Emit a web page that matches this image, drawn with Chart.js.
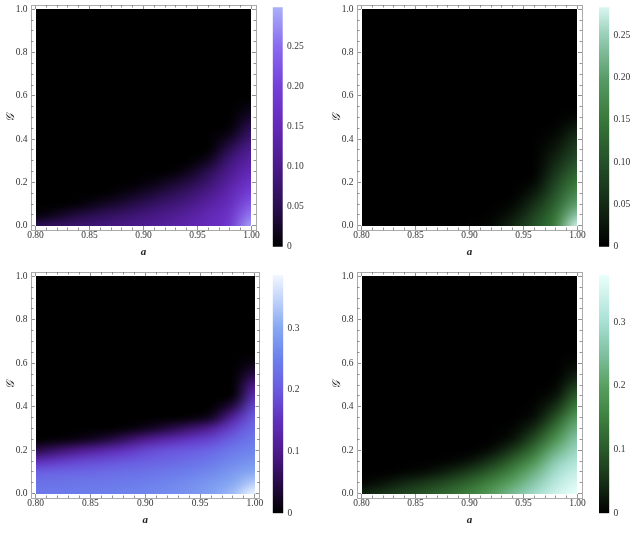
<!DOCTYPE html>
<html>
<head>
<meta charset="utf-8">
<script src="https://cdn.jsdelivr.net/npm/chart.js@4.4.1/dist/chart.umd.min.js"></script>
<style>
html, body { margin: 0; padding: 0; background: #fff; }
#wrap { position: relative; width: 635px; height: 533px; overflow: hidden; }
canvas { position: absolute; }
</style>
</head>
<body>
<div id="wrap"></div>
<script>
// grid nodes (a along x, G along y), rows above the last one are 0
const x_nodes = [0.80, 0.82, 0.84, 0.86, 0.88, 0.90, 0.92, 0.94, 0.96, 0.98, 1.00];
const y_nodes = [0.00, 0.05, 0.10, 0.15, 0.20, 0.25, 0.30, 0.35, 0.40, 0.45, 0.50, 0.55, 0.60, 0.65];

const x_major = [0.80, 0.85, 0.90, 0.95, 1.00];
const x_minor = [0.81, 0.82, 0.83, 0.84, 0.86, 0.87, 0.88, 0.89, 0.91, 0.92, 0.93, 0.94, 0.96, 0.97, 0.98, 0.99];
const y_major = [0.0, 0.2, 0.4, 0.6, 0.8, 1.0];
const y_minor = [0.05, 0.1, 0.15, 0.25, 0.3, 0.35, 0.45, 0.5, 0.55, 0.65, 0.7, 0.75, 0.85, 0.9, 0.95];

// top left, purple
const tl_values = [
    [0.050, 0.065, 0.075, 0.085, 0.095, 0.105, 0.120, 0.135, 0.155, 0.185, 0.290],
    [0.005, 0.020, 0.040, 0.055, 0.070, 0.085, 0.100, 0.120, 0.145, 0.175, 0.260],
    [0, 0, 0.005, 0.020, 0.035, 0.055, 0.075, 0.095, 0.125, 0.160, 0.230],
    [0, 0, 0, 0, 0.010, 0.025, 0.045, 0.070, 0.100, 0.145, 0.200],
    [0, 0, 0, 0, 0, 0.005, 0.020, 0.040, 0.075, 0.125, 0.175],
    [0, 0, 0, 0, 0, 0, 0, 0.015, 0.050, 0.105, 0.150],
    [0, 0, 0, 0, 0, 0, 0, 0, 0.020, 0.085, 0.130],
    [0, 0, 0, 0, 0, 0, 0, 0, 0, 0.055, 0.110],
    [0, 0, 0, 0, 0, 0, 0, 0, 0, 0.025, 0.085],
    [0, 0, 0, 0, 0, 0, 0, 0, 0, 0.005, 0.055],
    [0, 0, 0, 0, 0, 0, 0, 0, 0, 0, 0.030],
    [0, 0, 0, 0, 0, 0, 0, 0, 0, 0, 0.010],
    [0, 0, 0, 0, 0, 0, 0, 0, 0, 0, 0],
    [0, 0, 0, 0, 0, 0, 0, 0, 0, 0, 0]
];

// top right, green
const tr_values = [
    [0, 0, 0, 0, 0, 0.002, 0.010, 0.045, 0.100, 0.160, 0.280],
    [0, 0, 0, 0, 0, 0, 0.002, 0.025, 0.080, 0.145, 0.240],
    [0, 0, 0, 0, 0, 0, 0, 0.008, 0.055, 0.125, 0.205],
    [0, 0, 0, 0, 0, 0, 0, 0, 0.030, 0.105, 0.175],
    [0, 0, 0, 0, 0, 0, 0, 0, 0.010, 0.085, 0.150],
    [0, 0, 0, 0, 0, 0, 0, 0, 0, 0.065, 0.125],
    [0, 0, 0, 0, 0, 0, 0, 0, 0, 0.045, 0.100],
    [0, 0, 0, 0, 0, 0, 0, 0, 0, 0.030, 0.080],
    [0, 0, 0, 0, 0, 0, 0, 0, 0, 0.015, 0.060],
    [0, 0, 0, 0, 0, 0, 0, 0, 0, 0.005, 0.035],
    [0, 0, 0, 0, 0, 0, 0, 0, 0, 0, 0.010],
    [0, 0, 0, 0, 0, 0, 0, 0, 0, 0, 0],
    [0, 0, 0, 0, 0, 0, 0, 0, 0, 0, 0],
    [0, 0, 0, 0, 0, 0, 0, 0, 0, 0, 0]
];

// bottom left, purple to blue
const bl_values = [
    [0.240, 0.242, 0.245, 0.248, 0.252, 0.258, 0.265, 0.275, 0.290, 0.320, 0.385],
    [0.230, 0.232, 0.235, 0.238, 0.242, 0.248, 0.255, 0.265, 0.280, 0.300, 0.340],
    [0.205, 0.210, 0.215, 0.220, 0.225, 0.230, 0.238, 0.248, 0.260, 0.280, 0.300],
    [0.140, 0.160, 0.175, 0.185, 0.195, 0.205, 0.215, 0.225, 0.240, 0.260, 0.275],
    [0.050, 0.075, 0.100, 0.125, 0.150, 0.175, 0.190, 0.200, 0.215, 0.240, 0.255],
    [0, 0.005, 0.015, 0.035, 0.065, 0.100, 0.130, 0.155, 0.175, 0.210, 0.240],
    [0, 0, 0, 0, 0.005, 0.020, 0.045, 0.075, 0.110, 0.175, 0.225],
    [0, 0, 0, 0, 0, 0, 0, 0.005, 0.025, 0.120, 0.205],
    [0, 0, 0, 0, 0, 0, 0, 0, 0, 0.050, 0.180],
    [0, 0, 0, 0, 0, 0, 0, 0, 0, 0.005, 0.145],
    [0, 0, 0, 0, 0, 0, 0, 0, 0, 0, 0.100],
    [0, 0, 0, 0, 0, 0, 0, 0, 0, 0, 0.050],
    [0, 0, 0, 0, 0, 0, 0, 0, 0, 0, 0.015],
    [0, 0, 0, 0, 0, 0, 0, 0, 0, 0, 0]
];

// bottom right, green
const br_values = [
    [0.035, 0.055, 0.075, 0.095, 0.120, 0.150, 0.190, 0.240, 0.290, 0.340, 0.374],
    [0.005, 0.020, 0.040, 0.060, 0.085, 0.115, 0.155, 0.205, 0.260, 0.320, 0.355],
    [0, 0, 0.005, 0.015, 0.035, 0.065, 0.105, 0.160, 0.225, 0.295, 0.335],
    [0, 0, 0, 0, 0.005, 0.020, 0.055, 0.110, 0.180, 0.265, 0.310],
    [0, 0, 0, 0, 0, 0, 0.015, 0.060, 0.130, 0.225, 0.285],
    [0, 0, 0, 0, 0, 0, 0, 0.020, 0.085, 0.180, 0.260],
    [0, 0, 0, 0, 0, 0, 0, 0.005, 0.045, 0.135, 0.230],
    [0, 0, 0, 0, 0, 0, 0, 0, 0.015, 0.090, 0.195],
    [0, 0, 0, 0, 0, 0, 0, 0, 0.005, 0.050, 0.150],
    [0, 0, 0, 0, 0, 0, 0, 0, 0, 0.020, 0.110],
    [0, 0, 0, 0, 0, 0, 0, 0, 0, 0.005, 0.065],
    [0, 0, 0, 0, 0, 0, 0, 0, 0, 0, 0.030],
    [0, 0, 0, 0, 0, 0, 0, 0, 0, 0, 0.010],
    [0, 0, 0, 0, 0, 0, 0, 0, 0, 0, 0]
];

// legend ranges
const tl_bar_max = 0.299;
const tr_bar_max = 0.283;
const bl_bar_max = 0.386;
const br_bar_max = 0.374;
const bar_ticks_small = [0, 0.05, 0.10, 0.15, 0.20, 0.25];
const bar_ticks_large = [0, 0.1, 0.2, 0.3];

// colour functions: [value, colour]
const purple_stops = [
    [0, '#000000'], [0.05, '#2a0e50'], [0.10, '#4a1a8a'], [0.15, '#6428b8'],
    [0.20, '#7440d8'], [0.25, '#8a6af0'], [0.299, '#aab0fa']
];
const blue_stops = [
    [0, '#000000'], [0.05, '#280b48'], [0.10, '#4e1a8c'], [0.15, '#6030bc'],
    [0.20, '#6a5ae0'], [0.25, '#6c80ec'], [0.30, '#86a8f2'], [0.386, '#f2f8ff']
];
const green_stops = [
    [0, '#000000'], [0.05, '#142a14'], [0.10, '#24502a'], [0.15, '#387838'],
    [0.20, '#5a9c68'], [0.25, '#98cfb8'], [0.283, '#d8f6f0']
];
const green2_stops = [
    [0, '#000000'], [0.05, '#163016'], [0.10, '#2a5a2a'], [0.15, '#3e803e'],
    [0.20, '#58a060'], [0.25, '#80c0a0'], [0.30, '#a8e0d4'], [0.374, '#eafffb']
];

const X_PAD = 0.0042;
const Y_PAD = 0.02;

Chart.defaults.font.family = "'Liberation Serif', 'DejaVu Serif', serif";
Chart.defaults.font.size = 9.5;
Chart.defaults.color = '#333';
Chart.defaults.animation = false;

const panels = [
    {
        values: tl_values, stops: purple_stops, bar_max: tl_bar_max, bar_ticks: bar_ticks_small, digits: 2,
        main: {left: 0, top: 0, w: 265, h: 265, pad_top: 5, pad_right: 9},
        bar: {left: 266, top: 0, w: 55, h: 255, pad_left: 6.7, pad_top: 7.3, pad_bottom: 8.3, bw: 10}
    },
    {
        values: tr_values, stops: green_stops, bar_max: tr_bar_max, bar_ticks: bar_ticks_small, digits: 2,
        main: {left: 326, top: 0, w: 265, h: 265, pad_top: 5, pad_right: 9},
        bar: {left: 592, top: 0, w: 43, h: 255, pad_left: 7, pad_top: 7.3, pad_bottom: 8.3, bw: 10.3}
    },
    {
        values: bl_values, stops: blue_stops, bar_max: bl_bar_max, bar_ticks: bar_ticks_large, digits: 1,
        main: {left: 0, top: 266, w: 269, h: 267, pad_top: 6, pad_right: 9.5},
        bar: {left: 266, top: 266, w: 55, h: 255, pad_left: 6.7, pad_top: 9, pad_bottom: 7.7, bw: 10.6}
    },
    {
        values: br_values, stops: green2_stops, bar_max: br_bar_max, bar_ticks: bar_ticks_large, digits: 1,
        main: {left: 326, top: 266, w: 265, h: 267, pad_top: 6, pad_right: 9},
        bar: {left: 592, top: 266, w: 43, h: 255, pad_left: 7, pad_top: 9, pad_bottom: 7.7, bw: 10.3}
    }
];

function hex_to_rgb(h) {
    return [parseInt(h.slice(1, 3), 16), parseInt(h.slice(3, 5), 16), parseInt(h.slice(5, 7), 16)];
}

function color_at(stops, v) {
    if (v <= stops[0][0]) return hex_to_rgb(stops[0][1]);
    for (let i = 1; i < stops.length; i++) {
        if (v <= stops[i][0]) {
            const t = (v - stops[i - 1][0]) / (stops[i][0] - stops[i - 1][0]);
            const a = hex_to_rgb(stops[i - 1][1]);
            const b = hex_to_rgb(stops[i][1]);
            return a.map((c, k) => Math.round(c + (b[k] - c) * t));
        }
    }
    return hex_to_rgb(stops[stops.length - 1][1]);
}

// no padding for labels that hang over the frame, the layout is fixed
function no_label_padding(s) {
    s.paddingTop = 0;
    s.paddingBottom = 0;
    s.paddingLeft = 0;
    s.paddingRight = 0;
}

const heat_plugin = {
    id: 'heat',
    beforeDatasetsDraw(chart) {
        const panel = chart.options.plugins.heat.panel;
        if (!panel) return;
        const {ctx, scales} = chart;
        const x = scales.x;
        const y = scales.y;
        const rows = panel.values.length;
        const cols = x_nodes.length;

        const off = document.createElement('canvas');
        off.width = cols;
        off.height = rows;
        const octx = off.getContext('2d');
        const img = octx.createImageData(cols, rows);
        for (let j = 0; j < rows; j++) {
            for (let i = 0; i < cols; i++) {
                const rgb = color_at(panel.stops, panel.values[j][i]);
                const k = ((rows - 1 - j) * cols + i) * 4;
                img.data[k] = rgb[0];
                img.data[k + 1] = rgb[1];
                img.data[k + 2] = rgb[2];
                img.data[k + 3] = 255;
            }
        }
        octx.putImageData(img, 0, 0);

        const dx = x_nodes[1] - x_nodes[0];
        const dy = y_nodes[1] - y_nodes[0];
        // whole pixels, so the edge of the field has no soft grey seam
        const x0 = Math.round(x.getPixelForValue(x_major[0]));
        const x1 = Math.round(x.getPixelForValue(x_major[x_major.length - 1]));
        const y0 = Math.round(y.getPixelForValue(y_major[0]));
        const y1 = Math.round(y.getPixelForValue(y_major[y_major.length - 1]));
        const left = x.getPixelForValue(x_nodes[0] - dx / 2);
        const right = x.getPixelForValue(x_nodes[cols - 1] + dx / 2);
        const top = y.getPixelForValue(y_nodes[rows - 1] + dy / 2);
        const bottom = y.getPixelForValue(y_nodes[0] - dy / 2);

        ctx.save();
        ctx.beginPath();
        ctx.rect(x0, y1, x1 - x0, y0 - y1);
        ctx.clip();
        const zero = color_at(panel.stops, 0);
        ctx.fillStyle = `rgb(${zero[0]},${zero[1]},${zero[2]})`;
        ctx.fillRect(x0, y1, x1 - x0, y0 - y1);
        ctx.imageSmoothingEnabled = true;
        ctx.imageSmoothingQuality = 'high';
        ctx.drawImage(off, left, top, right - left, bottom - top);
        ctx.restore();
    }
};

function frame_axis(position, weight, values, tick_len, size, extra) {
    const horizontal = position === 'top' || position === 'bottom';
    const axis = {
        type: 'linear',
        position: position,
        weight: weight,
        min: horizontal ? x_major[0] - X_PAD : y_major[0] - Y_PAD,
        max: horizontal ? x_major[x_major.length - 1] + X_PAD : y_major[y_major.length - 1] + Y_PAD,
        afterBuildTicks: s => { s.ticks = values.map(v => ({value: v})); },
        afterFit: s => {
            if (horizontal) s.height = size; else s.width = size;
            no_label_padding(s);
        },
        grid: {drawOnChartArea: false, tickLength: -tick_len, tickColor: '#777', tickWidth: 0.8, z: 1},
        border: {display: weight === 1, color: '#aaa', width: 1, z: 1},
        ticks: {display: false, autoSkip: false}
    };
    return Object.assign(axis, extra || {});
}

function make_main(panel) {
    const m = panel.main;
    const canvas = document.createElement('canvas');
    canvas.width = m.w;
    canvas.height = m.h;
    canvas.style.left = m.left + 'px';
    canvas.style.top = m.top + 'px';
    document.getElementById('wrap').appendChild(canvas);

    new Chart(canvas, {
        type: 'scatter',
        data: {datasets: []},
        plugins: [heat_plugin],
        options: {
            responsive: false,
            devicePixelRatio: 1,
            layout: {padding: {top: m.pad_top, right: m.pad_right, left: 0, bottom: 0}},
            plugins: {legend: {display: false}, tooltip: {enabled: false}, heat: {panel: panel}},
            scales: {
                x: frame_axis('bottom', 1, x_major, 4, 35, {
                    ticks: {display: true, autoSkip: false, maxRotation: 0, padding: 4,
                        callback: v => v.toFixed(2)},
                    title: {display: true, text: 'a', color: '#222',
                        font: {size: 11, style: 'italic', weight: 'bold'}, padding: {top: 0, bottom: 6}}
                }),
                xMinor: frame_axis('bottom', 0, x_minor, 2.5, 0),
                xTop: frame_axis('top', 1, x_major, 4, 0),
                xTopMinor: frame_axis('top', 0, x_minor, 2.5, 0),
                y: frame_axis('left', 1, y_major, 4, 31, {
                    ticks: {display: true, autoSkip: false, padding: 7.5,
                        callback: v => v.toFixed(1)},
                    title: {display: true, text: '𝒢', color: '#222',
                        font: {size: 11.5, style: 'italic'}, padding: {top: 4.5, bottom: 0}}
                }),
                yMinor: frame_axis('left', 0, y_minor, 2.5, 0),
                yRight: frame_axis('right', 1, y_major, 4, 0),
                yRightMinor: frame_axis('right', 0, y_minor, 2.5, 0)
            }
        }
    });
}

function make_bar(panel) {
    const b = panel.bar;
    const canvas = document.createElement('canvas');
    canvas.width = b.w;
    canvas.height = b.h;
    canvas.style.left = b.left + 'px';
    canvas.style.top = b.top + 'px';
    document.getElementById('wrap').appendChild(canvas);

    new Chart(canvas, {
        type: 'bar',
        data: {
            labels: [''],
            datasets: [{
                data: [panel.bar_max],
                borderWidth: 0,
                barPercentage: 1,
                categoryPercentage: 1,
                backgroundColor: (ctx) => {
                    const chart = ctx.chart;
                    const y = chart.scales.y;
                    if (!chart.chartArea || !y) return '#000';
                    const g = chart.ctx.createLinearGradient(0, y.getPixelForValue(0), 0, y.getPixelForValue(panel.bar_max));
                    panel.stops.forEach(([v, c]) => {
                        g.addColorStop(Math.min(1, v / panel.bar_max), c);
                    });
                    return g;
                }
            }]
        },
        options: {
            responsive: false,
            devicePixelRatio: 1,
            layout: {padding: {left: b.pad_left, top: b.pad_top, bottom: b.pad_bottom, right: 0}},
            plugins: {legend: {display: false}, tooltip: {enabled: false}},
            scales: {
                x: {display: false},
                y: {
                    position: 'right',
                    min: 0,
                    max: panel.bar_max,
                    afterBuildTicks: s => { s.ticks = panel.bar_ticks.map(v => ({value: v})); },
                    afterFit: s => {
                        s.width = b.w - b.pad_left - b.bw;
                        no_label_padding(s);
                    },
                    grid: {display: false, drawTicks: false},
                    border: {display: false},
                    ticks: {autoSkip: false, padding: 4.3,
                        callback: v => v === 0 ? '0' : v.toFixed(panel.digits)}
                }
            }
        }
    });
}

panels.forEach(p => {
    make_main(p);
    make_bar(p);
});
</script>
</body>
</html>
